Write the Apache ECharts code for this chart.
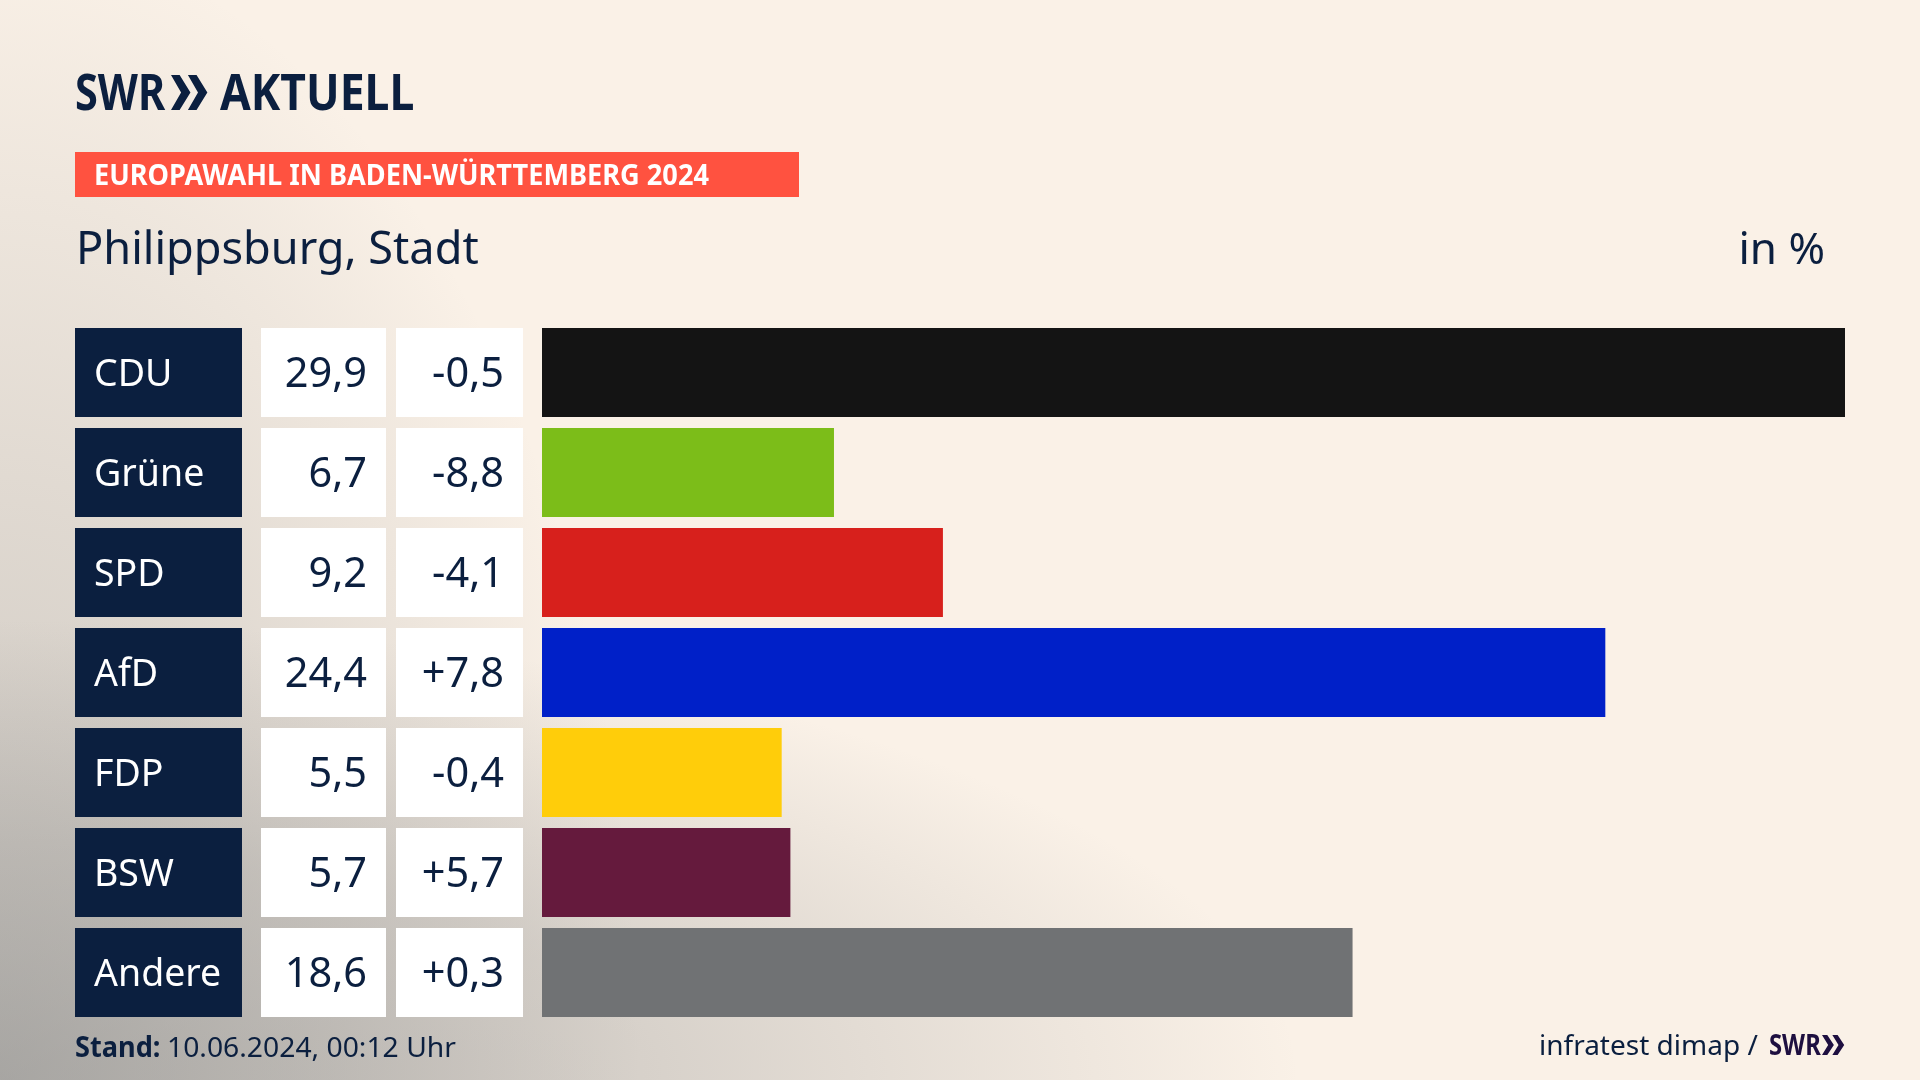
<!DOCTYPE html>
<html>
<head>
    <meta charset="utf-8">
    <title>Europawahl Philippsburg</title>
    <script src="https://cdn.jsdelivr.net/npm/echarts@6/dist/echarts.min.js"></script>
    <style>
        *{
            margin: 0;
            padding: 0;
        }
        html,body{
            width: 100%;
            height: 100%;
            overflow: hidden;
        }
        .container{
            width: 1920px;
            height: 1080px;
            /* grey haze along the left and bottom edge */
            background:
                radial-gradient(ellipse 1300px 460px at 0% 100%, rgba(135,136,136,.5), rgba(135,136,136,.3) 50%, rgba(135,136,136,0)),
                radial-gradient(ellipse 640px 1150px at 0% 100%, rgba(130,131,130,.42), rgba(130,131,130,.22) 50%, rgba(130,131,130,0)),
                #faf1e7;
        }
    </style>
</head>
<body>
<div class="container"></div>

<script>
    // data
    const parties = ['CDU', 'Grüne', 'SPD', 'AfD', 'FDP', 'BSW', 'Andere'];
    const shares = [29.9, 6.7, 9.2, 24.4, 5.5, 5.7, 18.6];
    const changes = [-0.5, -8.8, -4.1, 7.8, -0.4, 5.7, 0.3];
    const partyColors = ['#141414', '#7cbd19', '#d7201c', '#0020c8', '#ffcd0a', '#651a3d', '#707274'];

    const navy = '#0b1f3f';
    const fontFamily = '"Noto Sans", sans-serif';
    const rowTop = 322.5, rowsHeight = 700, barHeight = 89;

    const fmtShare = v => v.toFixed(1).replace('.', ',');
    const fmtChange = v => (v > 0 ? '+' : '-') + Math.abs(v).toFixed(1).replace('.', ',');

    // left, width of each column: name, share, change, bars
    const columns = [[75, 167], [261, 125], [396, 127], [542, 1303]];
    const grid = columns.map(c => ({left: c[0], width: c[1], top: rowTop, height: rowsHeight}));
    const xAxis = columns.map((c, i) => ({
        gridIndex: i, type: 'value', min: 0, max: i == 3 ? shares[0] : 1, show: false
    }));
    const yAxis = columns.map((c, i) => ({
        gridIndex: i, type: 'category', data: parties, inverse: true, show: false
    }));

    // table cells are full width bars carrying their text as label
    function cellSeries(index, color, textColor, texts, position, fontSize) {
        return {
            type: 'bar',
            xAxisIndex: index,
            yAxisIndex: index,
            barWidth: barHeight,
            silent: true,
            itemStyle: {color: color},
            data: parties.map(() => 1),
            label: {
                show: true,
                position: position,
                distance: 19,
                offset: [0, 3],
                color: textColor,
                fontFamily: fontFamily,
                fontSize: fontSize,
                formatter: p => texts[p.dataIndex]
            }
        };
    }

    let series = [
        cellSeries(0, navy, '#ffffff', parties, 'insideLeft', 37.5),
        cellSeries(1, '#ffffff', navy, shares.map(fmtShare), 'insideRight', 41.5),
        cellSeries(2, '#ffffff', navy, changes.map(fmtChange), 'insideRight', 41.5),
        {
            type: 'bar',
            xAxisIndex: 3,
            yAxisIndex: 3,
            barWidth: barHeight,
            silent: true,
            data: shares.map((v, i) => ({value: v, itemStyle: {color: partyColors[i]}}))
        }
    ];

    function txt(text, x, y, font, color, scaleX, align) {
        return {
            type: 'text', x: x, y: y, scaleX: scaleX || 1,
            style: {text: text, x: 0, y: 0, font: font, fill: color, align: align || 'left', verticalAlign: 'middle'}
        };
    }

    function chevrons(x, y, w, h, color) {
        let t = w * 0.24;
        let one = x0 => ({
            type: 'polygon',
            shape: {points: [[x0, y], [x0 + t, y], [x0 + w * 0.54, y + h / 2], [x0 + t, y + h], [x0, y + h], [x0 + w * 0.28, y + h / 2]]},
            style: {fill: color}
        });
        return [one(x), one(x + w * 0.47)];
    }

    const graphic = [
        txt('SWR', 75, 96, '700 50px ' + fontFamily, navy, 0.83),
        ...chevrons(171, 75, 36, 35, navy),
        txt('AKTUELL', 220, 96, '700 50px ' + fontFamily, navy, 0.89),
        {type: 'rect', shape: {x: 75, y: 152, width: 724, height: 45}, style: {fill: '#ff5240'}},
        txt('EUROPAWAHL IN BADEN-WÜRTTEMBERG 2024', 94, 177, '700 28px ' + fontFamily, '#ffffff', 0.97),
        txt('Philippsburg, Stadt', 76, 251, '46px ' + fontFamily, navy, 0.98),
        txt('in %', 1825, 251, '44px ' + fontFamily, navy, 1, 'right'),
        txt('Stand:', 75, 1049, '700 28px ' + fontFamily, navy, 0.97),
        txt('10.06.2024, 00:12 Uhr', 167, 1049, '28px ' + fontFamily, navy, 1.01),
        txt('infratest dimap /', 1539, 1047, '28px ' + fontFamily, navy, 1.0),
        txt('SWR', 1769, 1047, '700 28px ' + fontFamily, '#1e0f40', 0.85),
        ...chevrons(1822, 1035, 22, 20, '#1e0f40')
    ];

    let chart = echarts.init(document.querySelector('.container'));
    chart.setOption({
        animation: false,
        backgroundColor: 'transparent',
        grid, xAxis, yAxis, series, graphic
    });
</script>
</body>
</html>
